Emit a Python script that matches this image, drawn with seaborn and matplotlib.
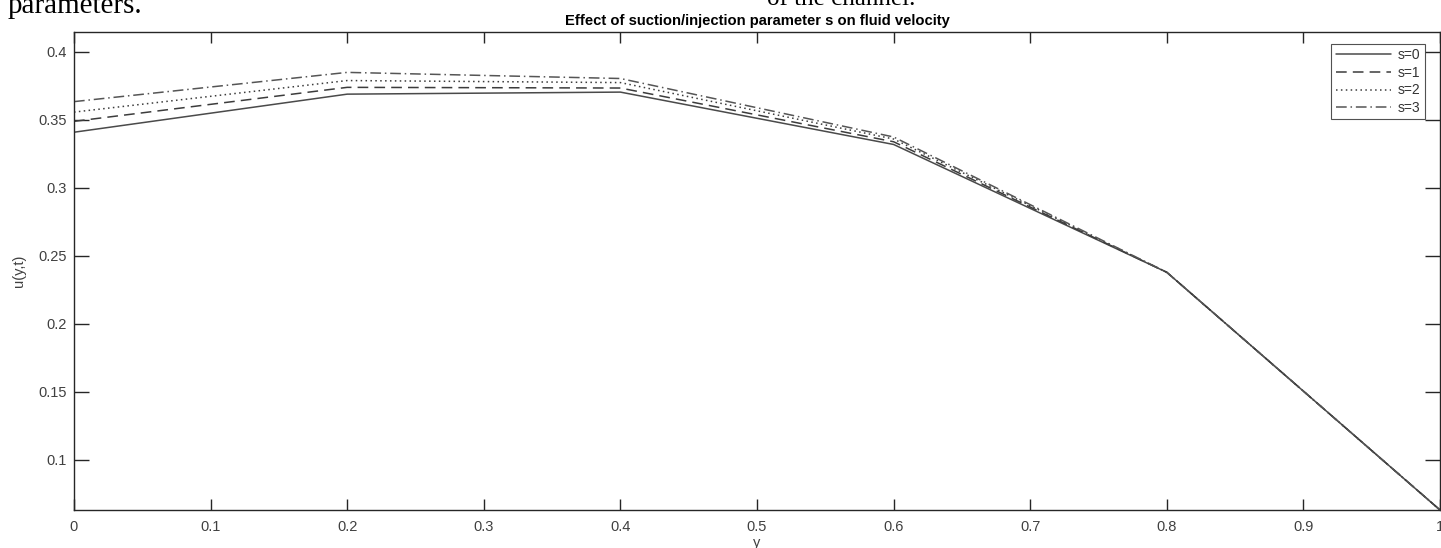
import matplotlib
matplotlib.use("Agg")
import matplotlib.pyplot as plt
import seaborn as sns
import pandas as pd

y_vals = [0.0, 0.2, 0.4, 0.6, 0.8, 1.0]
u_s0 = [0.341, 0.369, 0.3705, 0.332, 0.238, 0.0632]
u_s1 = [0.349, 0.374, 0.3735, 0.334, 0.238, 0.0632]
u_s2 = [0.3558, 0.379, 0.3775, 0.336, 0.238, 0.0632]
u_s3 = [0.3635, 0.385, 0.3805, 0.3375, 0.238, 0.0632]
labels = ["s=0", "s=1", "s=2", "s=3"]
x_ticks = [0, 0.1, 0.2, 0.3, 0.4, 0.5, 0.6, 0.7, 0.8, 0.9, 1]
x_ticklabels = ["0", "0.1", "0.2", "0.3", "0.4", "0.5", "0.6", "0.7", "0.8", "0.9", "1"]
y_ticks = [0.1, 0.15, 0.2, 0.25, 0.3, 0.35, 0.4]
y_ticklabels = ["0.1", "0.15", "0.2", "0.25", "0.3", "0.35", "0.4"]

sns.set_style("white")
plt.rcParams["font.family"] = ["Liberation Sans", "DejaVu Sans"]

W, H = 1441, 548
fig = plt.figure(figsize=(W / 100, H / 100), dpi=100)
ax_l, ax_r, ax_t, ax_b = 74, 1440, 32, 510
ax = fig.add_axes([ax_l / W, (H - ax_b) / H, (ax_r - ax_l) / W, (ax_b - ax_t) / H])

linestyles = ["-", (0, (7, 4)), (0, (1, 2.2)), (0, (7, 2.5, 1, 2.5))]
series = [u_s0, u_s1, u_s2, u_s3]
cols = ["#4a4a4a", "#3c3c3c", "#3c3c3c", "#555555"]
for vals, lab, ls, c in zip(series, labels, linestyles, cols):
    df = pd.DataFrame({"y": y_vals, "u": vals})
    sns.lineplot(data=df, x="y", y="u", ax=ax, color=c, linestyle=ls, linewidth=1.1, label=lab)

ax.set_xlim(0, 1)
ax.set_ylim(0.0632, 0.4147)
ax.set_xticks(x_ticks)
ax.set_xticklabels(x_ticklabels)
ax.set_yticks(y_ticks)
ax.set_yticklabels(y_ticklabels)

for sp in ax.spines.values():
    sp.set_color("#262626")
    sp.set_linewidth(1.0)
    sp.set_visible(True)

ax.tick_params(axis="x", direction="in", length=8, width=1.0, color="#262626",
               top=True, bottom=True, labelsize=10.5, labelcolor="#404040", pad=7)
ax.tick_params(axis="y", direction="in", length=11, width=1.0, color="#262626",
               left=True, right=True, labelsize=10.5, labelcolor="#404040", pad=5)

ax.set_xlabel("y", fontsize=10.5, color="#404040", labelpad=2)
ax.set_ylabel("u(y,t)", fontsize=10.5, color="#404040", labelpad=9)
ax.set_title("Effect of suction/injection parameter s on fluid velocity",
             fontsize=10.6, fontweight="bold", color="black", pad=5)

leg = ax.legend(loc="upper right",
                bbox_to_anchor=((1425 - ax_l) / (ax_r - ax_l), (ax_b - 44) / (ax_b - ax_t)),
                borderaxespad=0, fontsize=10, frameon=True, fancybox=False,
                edgecolor="#262626", handlelength=4.0, borderpad=0.3,
                labelspacing=0.26, handletextpad=0.5)
leg.get_frame().set_linewidth(0.8)
for t in leg.get_texts():
    t.set_color("#333333")

serif = ["Liberation Serif", "DejaVu Serif"]
fig.text(8 / W, 1 - 13 / H, "parameters.", fontsize=21, family=serif,
         va="baseline", ha="left", color="black")
fig.text(767 / W, 1 - 5 / H, "of the channel.", fontsize=18, family=serif,
         va="baseline", ha="left", color="black")

fig.savefig("out.png", dpi=100)
